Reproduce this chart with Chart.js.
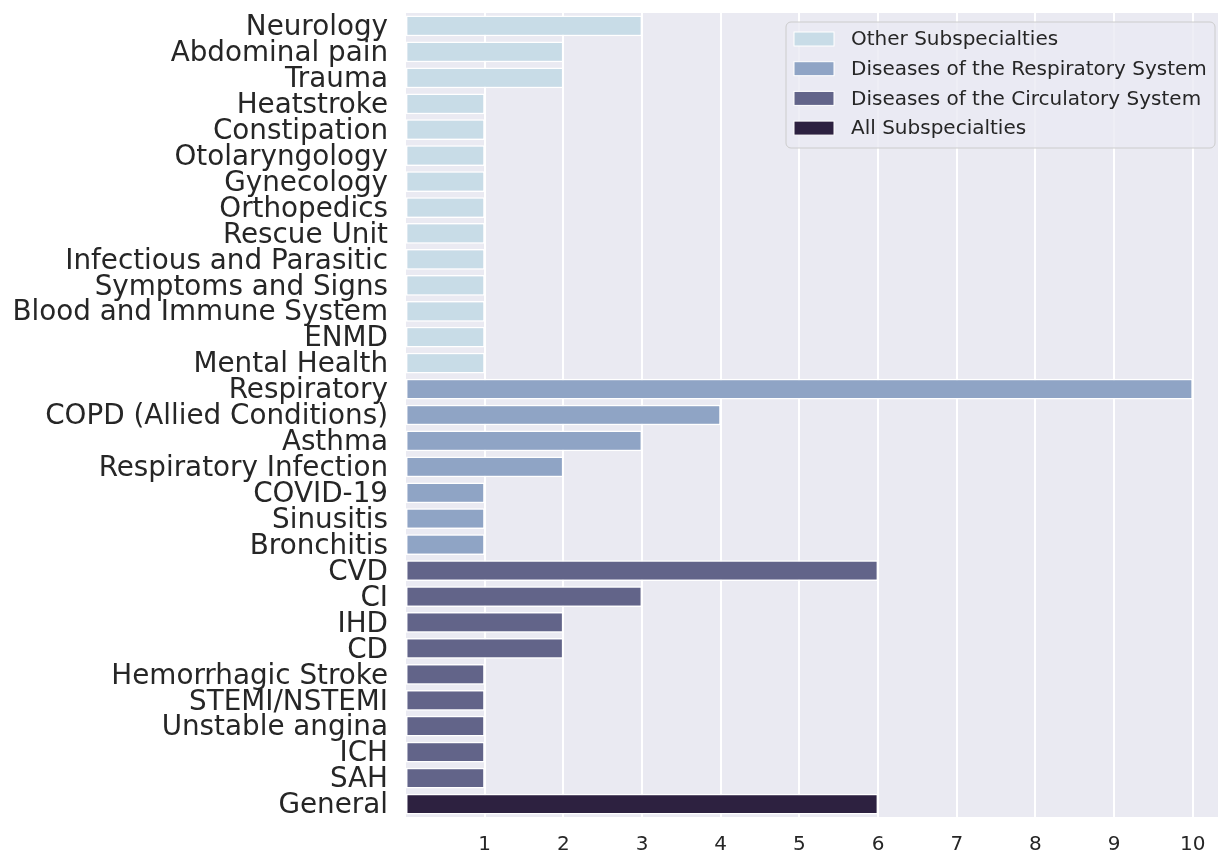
<!DOCTYPE html>
<html>
<head>
<meta charset="utf-8">
<script src="https://cdn.jsdelivr.net/npm/chart.js@4.4.1/dist/chart.umd.min.js"></script>
<style>
  html, body { margin: 0; padding: 0; background: #fff; }
  #wrap { width: 1218px; height: 853px; }
</style>
</head>
<body>
<div id="wrap"><canvas id="c" width="1218" height="853"></canvas></div>
<script>
const categories = [
  'Neurology', 'Abdominal pain', 'Trauma', 'Heatstroke', 'Constipation', 'Otolaryngology',
  'Gynecology', 'Orthopedics', 'Rescue Unit', 'Infectious and Parasitic', 'Symptoms and Signs',
  'Blood and Immune System', 'ENMD', 'Mental Health',
  'Respiratory', 'COPD (Allied Conditions)', 'Asthma', 'Respiratory Infection', 'COVID-19',
  'Sinusitis', 'Bronchitis',
  'CVD', 'CI', 'IHD', 'CD', 'Hemorrhagic Stroke', 'STEMI/NSTEMI', 'Unstable angina', 'ICH', 'SAH',
  'General'
];
const counts = [
  3, 2, 2, 1, 1, 1, 1, 1, 1, 1, 1, 1, 1, 1,
  10, 4, 3, 2, 1, 1, 1,
  6, 3, 2, 2, 1, 1, 1, 1, 1,
  6
];
const groupOf = [
  0, 0, 0, 0, 0, 0, 0, 0, 0, 0, 0, 0, 0, 0,
  1, 1, 1, 1, 1, 1, 1,
  2, 2, 2, 2, 2, 2, 2, 2, 2,
  3
];
const groupNames = [
  'Other Subspecialties',
  'Diseases of the Respiratory System',
  'Diseases of the Circulatory System',
  'All Subspecialties'
];
const groupColors = ['#c8dce7', '#8fa4c5', '#626489', '#2d2140'];
const xTicks = [1, 2, 3, 4, 5, 6, 7, 8, 9, 10];

const FONT = 'DejaVu Sans';
const TEXT = '#262626';

const datasets = groupNames.map((name, g) => ({
  label: name,
  data: counts.map((v, i) => groupOf[i] === g ? v : null),
  backgroundColor: groupColors[g],
  borderColor: '#ffffff',
  borderWidth: 1.5,
  borderSkipped: false,
  categoryPercentage: 0.8,
  barPercentage: 1.0
}));

const plotBg = {
  id: 'plotBg',
  beforeDraw(chart) {
    const { ctx, chartArea: a } = chart;
    ctx.save();
    ctx.fillStyle = '#eaeaf2';
    ctx.fillRect(a.left, a.top, a.right - a.left, a.bottom - a.top);
    ctx.restore();
  }
};

const boxLegend = {
  id: 'boxLegend',
  afterDraw(chart) {
    const { ctx } = chart;
    const x = 786, y = 22, w = 429, h = 126, r = 5;
    ctx.save();
    ctx.beginPath();
    ctx.roundRect(x, y, w, h, r);
    ctx.fillStyle = 'rgba(234,234,242,0.8)';
    ctx.fill();
    ctx.strokeStyle = '#cccccc';
    ctx.lineWidth = 1;
    ctx.stroke();
    ctx.font = '20px "' + FONT + '"';
    ctx.textBaseline = 'middle';
    chart.data.datasets.forEach((ds, i) => {
      const cy = 39 + i * 29.7;
      ctx.fillStyle = ds.backgroundColor;
      ctx.fillRect(794, cy - 7, 40, 14);
      ctx.strokeStyle = '#ffffff';
      ctx.strokeRect(794, cy - 7, 40, 14);
      ctx.fillStyle = TEXT;
      ctx.fillText(ds.label, 851, cy + 1);
    });
    ctx.restore();
  }
};

new Chart(document.getElementById('c'), {
  type: 'bar',
  data: { labels: categories, datasets },
  options: {
    indexAxis: 'y',
    responsive: false,
    animation: false,
    layout: { padding: { top: 13, right: 0, left: 0, bottom: 0 } },
    plugins: {
      legend: { display: false },
      tooltip: { enabled: false }
    },
    scales: {
      x: {
        stacked: true,
        min: 0,
        max: 10.32,
        afterBuildTicks(scale) { scale.ticks = xTicks.map(v => ({ value: v })); },
        afterFit(scale) { scale.height = 36; scale.paddingLeft = 0; scale.paddingRight = 0; },
        grid: { color: '#ffffff', lineWidth: 2, drawTicks: false },
        border: { display: false },
        ticks: { color: TEXT, font: { family: FONT, size: 20 }, padding: 16 }
      },
      y: {
        stacked: true,
        afterFit(scale) { scale.width = 406; scale.paddingTop = 0; scale.paddingBottom = 0; },
        grid: { display: false },
        border: { display: false },
        ticks: {
          color: TEXT,
          font: { family: FONT, size: 27.8, lineHeight: 1 },
          padding: 10,
          labelOffset: 2,
          autoSkip: false
        }
      }
    }
  },
  plugins: [plotBg, boxLegend]
});
</script>
</body>
</html>
